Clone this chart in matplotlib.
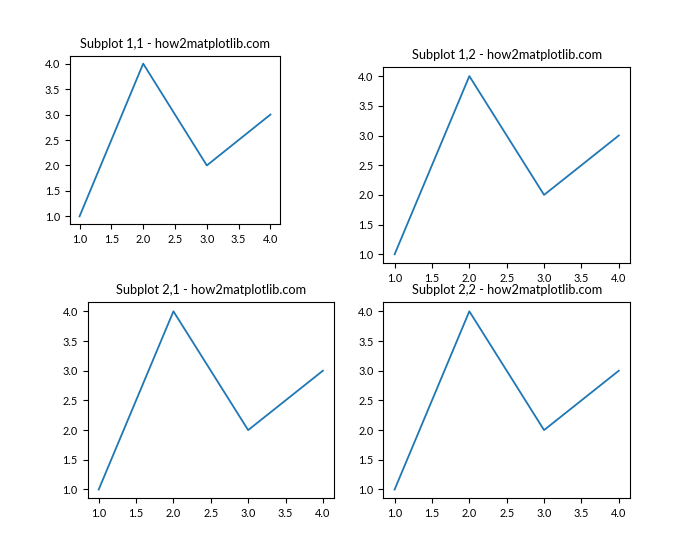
import matplotlib
matplotlib.use("Agg")
import matplotlib.pyplot as plt

plt.rcParams['font.family'] = ['Lato', 'DejaVu Sans']
plt.rcParams['font.size'] = 10

x = [1, 2, 3, 4]
y = [1, 4, 2, 3]
xticks = [1.0, 1.5, 2.0, 2.5, 3.0, 3.5, 4.0]
titles = ['Subplot 1,1 - how2matplotlib.com', 'Subplot 1,2 - how2matplotlib.com',
          'Subplot 2,1 - how2matplotlib.com', 'Subplot 2,2 - how2matplotlib.com']

fig, axs = plt.subplots(2, 2, figsize=(7, 5.6), dpi=100)
for ax, title in zip(axs.flat, titles):
    ax.plot(x, y, linewidth=1.3)
    ax.set_title(title, fontsize=9.2)
    ax.set_xticks(xticks)
    ax.tick_params(labelsize=7.8)

# first subplot moved and shrunk
axs[0, 0].set_position([0.1, 0.6, 0.3, 0.3])

plt.savefig('out.png')
